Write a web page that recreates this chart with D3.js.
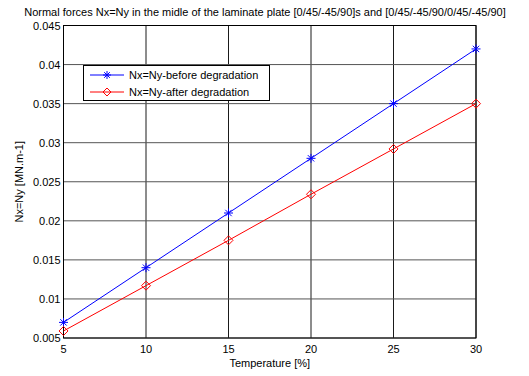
<!DOCTYPE html>
<html>
<head>
<meta charset="utf-8">
<script src="https://cdn.jsdelivr.net/npm/d3@7"></script>
<style>
  body { margin: 0; background: #fff; }
  text { font-family: "Liberation Sans", Arial, sans-serif; fill: #000; }
</style>
</head>
<body>
<svg id="chart" width="529" height="376"></svg>
<script>
// data
const temperature = [5, 10, 15, 20, 25, 30];
const beforeDeg = [0.007, 0.014, 0.021, 0.028, 0.035, 0.042];
const afterDeg = [0.0059, 0.0117, 0.0175, 0.0234, 0.0292, 0.035];
const xTicks = [5, 10, 15, 20, 25, 30];
const yTicks = [0.005, 0.01, 0.015, 0.02, 0.025, 0.03, 0.035, 0.04, 0.045];
const seriesNames = ["Nx=Ny-before degradation", "Nx=Ny-after degradation"];

const svg = d3.select("#chart");
const margin = {left: 63.5, right: 53, top: 25.5, bottom: 38};
const W = 529, H = 376;

const x = d3.scaleLinear().domain([5, 30]).range([margin.left, W - margin.right]);
const y = d3.scaleLinear().domain([0.005, 0.045]).range([H - margin.bottom, margin.top]);

// grid
svg.append("g").selectAll("line").data(xTicks).join("line")
  .attr("x1", d => x(d)).attr("x2", d => x(d))
  .attr("y1", y.range()[0]).attr("y2", y.range()[1])
  .attr("stroke", "#1a1a1a").attr("stroke-width", 1);
svg.append("g").selectAll("line").data(yTicks).join("line")
  .attr("x1", x.range()[0]).attr("x2", x.range()[1])
  .attr("y1", d => y(d)).attr("y2", d => y(d))
  .attr("stroke", "#555").attr("stroke-width", 1);

// frame
svg.append("rect")
  .attr("x", x.range()[0]).attr("y", y.range()[1])
  .attr("width", x.range()[1] - x.range()[0])
  .attr("height", y.range()[0] - y.range()[1])
  .attr("fill", "none").attr("stroke", "#000").attr("stroke-width", 1);

// tick labels
svg.append("g").selectAll("text").data(xTicks).join("text")
  .attr("x", d => x(d)).attr("y", H - margin.bottom + 15)
  .attr("text-anchor", "middle").attr("font-size", 11)
  .text(d => d);
svg.append("g").selectAll("text").data(yTicks).join("text")
  .attr("x", margin.left - 3).attr("y", d => y(d) + 4)
  .attr("text-anchor", "end").attr("font-size", 11)
  .text(d => d3.format("~g")(d));

// axis titles
svg.append("text")
  .attr("x", (x.range()[0] + x.range()[1]) / 2).attr("y", 367)
  .attr("text-anchor", "middle").attr("font-size", 11)
  .text("Temperature [%]");
svg.append("text")
  .attr("transform", `translate(23,${(y.range()[0] + y.range()[1]) / 2}) rotate(-90)`)
  .attr("text-anchor", "middle").attr("font-size", 11)
  .text("Nx=Ny [MN.m-1]");
svg.append("text")
  .attr("x", 265).attr("y", 16)
  .attr("text-anchor", "middle").attr("font-size", 11)
  .text("Normal forces Nx=Ny in the midle of the laminate plate [0/45/-45/90]s and [0/45/-45/90/0/45/-45/90]");

const line = d3.line().x((d, i) => x(temperature[i])).y(d => y(d));

function star(g, cx, cy, r, color) {
  [0, 45, 90, 135].forEach(a => {
    const rad = a * Math.PI / 180;
    g.append("line")
      .attr("x1", cx - r * Math.cos(rad)).attr("y1", cy - r * Math.sin(rad))
      .attr("x2", cx + r * Math.cos(rad)).attr("y2", cy + r * Math.sin(rad))
      .attr("stroke", color).attr("stroke-width", 1);
  });
}
function diamond(g, cx, cy, r, color) {
  g.append("path")
    .attr("d", `M${cx},${cy - r}L${cx + r},${cy}L${cx},${cy + r}L${cx - r},${cy}Z`)
    .attr("fill", "none").attr("stroke", color).attr("stroke-width", 1);
}

// series
svg.append("path").datum(beforeDeg).attr("d", line)
  .attr("fill", "none").attr("stroke", "#0000ff").attr("stroke-width", 1);
svg.append("path").datum(afterDeg).attr("d", line)
  .attr("fill", "none").attr("stroke", "#ff0000").attr("stroke-width", 1);

const mk = svg.append("g");
beforeDeg.forEach((v, i) => star(mk, x(temperature[i]), y(v), 4.5, "#0000ff"));
afterDeg.forEach((v, i) => diamond(mk, x(temperature[i]), y(v), 4.5, "#ff0000"));

// legend
const lg = svg.append("g");
lg.append("rect").attr("x", 83.5).attr("y", 65.5).attr("width", 186).attr("height", 35)
  .attr("fill", "#fff").attr("stroke", "#000").attr("stroke-width", 1);
[["#0000ff", star], ["#ff0000", diamond]].forEach(([c, fn], i) => {
  const ly = 75 + i * 17;
  lg.append("line").attr("x1", 90).attr("x2", 124).attr("y1", ly).attr("y2", ly)
    .attr("stroke", c).attr("stroke-width", 1);
  fn(lg, 107, ly, 4, c);
  lg.append("text").attr("x", 129).attr("y", ly + 4).attr("font-size", 11)
    .text(seriesNames[i]);
});
</script>
</body>
</html>
